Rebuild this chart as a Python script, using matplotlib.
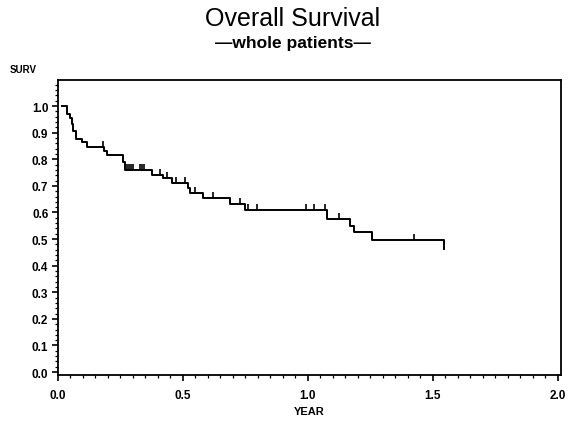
"""
Kaplan-Meier overall survival curve, redrawn from a scanned figure.
"""

import numpy as np
import matplotlib
matplotlib.use("Agg")
import matplotlib.pyplot as plt
from matplotlib.ticker import MultipleLocator, FormatStrFormatter

# ── Data ─────────────────────────────────────────────────────────────────────
event_years = [0.015, 0.035, 0.048, 0.055, 0.061, 0.071, 0.095, 0.115, 0.186,
               0.195, 0.261, 0.268, 0.375, 0.420, 0.455, 0.520, 0.530, 0.580,
               0.690, 0.750, 1.075, 1.168, 1.184, 1.255, 1.545]
surv = [1.000, 0.970, 0.957, 0.932, 0.907, 0.878, 0.866, 0.845, 0.830,
        0.816, 0.788, 0.760, 0.741, 0.730, 0.710, 0.692, 0.673, 0.653,
        0.633, 0.610, 0.577, 0.550, 0.525, 0.497, 0.462]
censor_years = [0.180, 0.278, 0.285, 0.292, 0.300, 0.330, 0.338, 0.346,
                0.410, 0.437, 0.472, 0.508, 0.548, 0.621, 0.728, 0.762,
                0.795, 0.992, 1.025, 1.068, 1.125, 1.425]

x_ticks = [0.0, 0.5, 1.0, 1.5, 2.0]
y_ticks = [0.0, 0.1, 0.2, 0.3, 0.4, 0.5, 0.6, 0.7, 0.8, 0.9, 1.0]

# ── Style ────────────────────────────────────────────────────────────────────
plt.rcParams.update({
    "font.family": ["Liberation Sans", "DejaVu Sans"],
    "axes.linewidth": 1.3,
})

fig = plt.figure(figsize=(5.8, 4.27), dpi=100)
ax = fig.add_axes([0.1, 0.1194, 0.867, 0.6909])

# step curve + censor ticks sitting on the curve
ax.step(event_years, surv, where="post", color="black", lw=1.4)
idx = np.searchsorted(event_years, censor_years, side="right") - 1
censor_surv = np.asarray(surv)[idx]
ax.plot(censor_years, censor_surv, ls="none", marker=2, ms=4.5, mew=1.2,
        color="black")

ax.set_xlim(0, 2.012)
ax.set_ylim(-0.011, 1.098)
ax.set_xticks(x_ticks)
ax.set_yticks(y_ticks)
ax.xaxis.set_minor_locator(MultipleLocator(0.05))
ax.yaxis.set_minor_locator(MultipleLocator(0.02))
ax.xaxis.set_major_formatter(FormatStrFormatter("%.1f"))
ax.yaxis.set_major_formatter(FormatStrFormatter("%.1f"))
ax.tick_params(which="major", length=4, width=1.2, labelsize=8.5, pad=3)
ax.tick_params(which="minor", length=2, width=0.9)
for lbl in ax.get_xticklabels() + ax.get_yticklabels():
    lbl.set_fontweight("bold")
ax.tick_params(axis="x", pad=6)

ax.set_xlabel("YEAR", fontsize=8, fontweight="bold", labelpad=4)
fig.text(0.04, 0.836, "SURV", fontsize=7, fontweight="bold",
         ha="center", va="center")

fig.text(0.505, 0.955, "Overall Survival", fontsize=18,
         ha="center", va="center")
fig.text(0.505, 0.898, "\u2014whole patients\u2014", fontsize=12.5,
         fontweight="bold", ha="center", va="center")

fig.savefig("out.png", dpi=100)
